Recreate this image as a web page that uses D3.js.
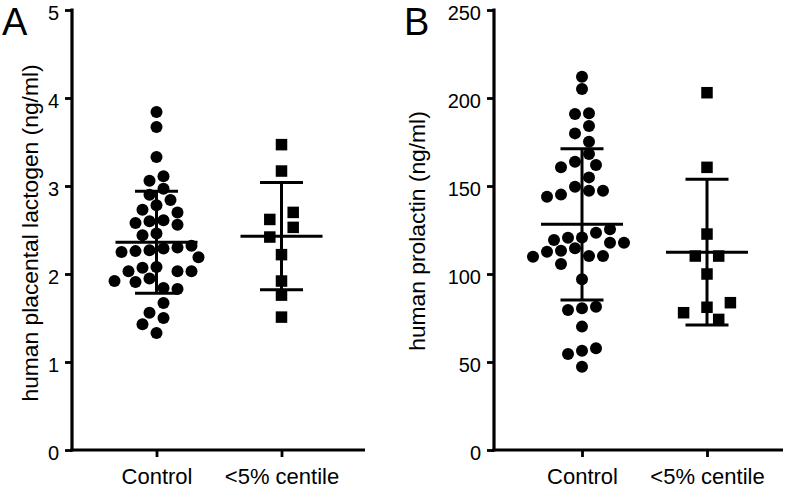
<!DOCTYPE html>
<html>
<head>
<meta charset="utf-8">
<script src="https://cdn.jsdelivr.net/npm/d3@7"></script>
<style>
  html, body { margin: 0; padding: 0; background: #fff; }
  svg { display: block; font-family: "Liberation Sans", Arial, Helvetica, sans-serif; }
</style>
</head>
<body>
<svg id="chart" width="794" height="488"></svg>
<script>
// ---- Data ----
const categories = ["Control", "<5% centile"];

// Panel A: human placental lactogen (ng/ml)
const hplControl = [3.84, 3.67, 3.33, 3.11, 3.06, 2.97, 2.90, 2.84, 2.78, 2.73,
  2.70, 2.61, 2.60, 2.58, 2.56, 2.46, 2.44, 2.32, 2.30, 2.29,
  2.27, 2.26, 2.25, 2.19, 2.08, 2.07, 2.03, 2.03, 2.03, 1.95,
  1.92, 1.91, 1.84, 1.83, 1.67, 1.56, 1.50, 1.43, 1.33];
const hplFGR = [3.47, 3.17, 2.70, 2.62, 2.53, 2.42, 2.22, 1.92, 1.76, 1.51];
const hplMean = [2.36, 2.43];
const hplSD = [0.58, 0.61];
const hplTicks = [0, 1, 2, 3, 4, 5];

// Panel B: human prolactin (ng/ml)
const prlControl = [212.1, 205.1, 191.3, 190.9, 184.1, 179.9, 175.2, 168.2, 163.8, 161.9,
  160.6, 154.9, 149.6, 147.3, 147.3, 145.1, 143.9, 125.4, 123.5, 120.8,
  120.6, 119.3, 117.8, 117.8, 114.6, 113.2, 112.7, 110.2, 110.2, 109.8,
  105.7, 97.0, 81.4, 80.5, 79.5, 70.1, 57.8, 56.4, 54.5, 47.3];
const prlFGR = [203.0, 160.6, 122.7, 110.2, 110.2, 100.0, 83.7, 81.1, 78.0, 74.2];
const prlMean = [128.2, 112.4];
const prlSD = [43.0, 41.4];
const prlTicks = [0, 50, 100, 150, 200, 250];

// ---- Layout ----
const svg = d3.select("#chart");
const yTop = 10, yBottom = 450;
const FONT = "'Liberation Sans', Arial, Helvetica, sans-serif";

const panels = [
  { letter: "A", letterX: 2, x0: 72, width: 293, catPos: [84.5, 209.5],
    domain: [0, 5], ticks: hplTicks, title: "human placental lactogen (ng/ml)",
    titleX: 38, titleY: 233, groups: [hplControl, hplFGR], mean: hplMean, sd: hplSD },
  { letter: "B", letterX: 404, x0: 494, width: 289, catPos: [88, 213],
    domain: [0, 250], ticks: prlTicks, title: "human prolactin (ng/ml)",
    titleX: 425, titleY: 231, groups: [prlControl, prlFGR], mean: prlMean, sd: prlSD }
];

// simple deterministic beeswarm: bin rows, centre each row, resolve overlaps
function swarm(values, y, step, minDist, binH) {
  const pts = values.map((v, i) => ({ v, i, y: y(v) })).sort((a, b) => a.y - b.y);
  const bins = [];
  let cur = null;
  for (const p of pts) {
    if (!cur || p.y - cur[0].y >= binH) { cur = []; bins.push(cur); }
    cur.push(p);
  }
  const placed = [];
  for (const bin of bins) {
    const n = bin.length;
    bin.forEach((p, i) => {
      const desired = ((n - 1) / 2 - i) * step;
      let off = desired;
      for (let j = 0; j < 80; j++) {
        const kk = j === 0 ? 0 : (j % 2 ? -Math.ceil(j / 2) : Math.ceil(j / 2));
        off = desired + kk * step / 2;
        if (placed.every(q => Math.hypot(q.dx - off, q.y - p.y) >= minDist)) break;
      }
      p.dx = off;
      placed.push(p);
    });
  }
  return placed;
}

panels.forEach(P => {
  const g = svg.append("g").attr("transform", `translate(${P.x0},0)`);
  const y = d3.scaleLinear().domain(P.domain).range([yBottom, yTop]);
  const x = d3.scalePoint().domain(categories).range(P.catPos);

  // y axis
  const yAx = g.append("g")
    .call(d3.axisLeft(y).tickValues(P.ticks).tickSize(7).tickSizeOuter(0).tickPadding(6)
      .tickFormat(d3.format("d")));
  yAx.select(".domain").remove();
  yAx.selectAll(".tick line").attr("stroke", "#000").attr("stroke-width", 2.8);
  yAx.selectAll(".tick text").attr("fill", "#000").attr("dy", "9px")
    .style("font-size", "20px").style("font-family", FONT);
  g.append("line").attr("x1", 0).attr("x2", 0).attr("y1", yTop - 1.4).attr("y2", yBottom + 1.5)
    .attr("stroke", "#000").attr("stroke-width", 3.2);

  // x axis
  const xAx = g.append("g").attr("transform", `translate(0,${yBottom})`)
    .call(d3.axisBottom(x).tickSize(7).tickSizeOuter(0).tickPadding(0));
  xAx.select(".domain").remove();
  xAx.selectAll(".tick line").attr("stroke", "#000").attr("stroke-width", 2.8);
  xAx.selectAll(".tick text").attr("fill", "#000").attr("y", 34).attr("dy", 0)
    .style("font-size", "22px").style("font-family", FONT);
  g.append("line").attr("x1", -1.6).attr("x2", P.width).attr("y1", yBottom).attr("y2", yBottom)
    .attr("stroke", "#000").attr("stroke-width", 3.2);

  // y title
  g.append("text")
    .attr("transform", `translate(${P.titleX - P.x0},${P.titleY}) rotate(-90)`)
    .attr("text-anchor", "middle")
    .style("font-size", "22.8px")
    .attr("fill", "#000")
    .text(P.title);

  // panel letter
  svg.append("text").attr("x", P.letterX).attr("y", 34.5)
    .style("font-size", "38px").attr("fill", "#000").text(P.letter);

  // points
  P.groups.forEach((vals, gi) => {
    const cx = x(categories[gi]);
    if (gi === 0) {
      const pts = swarm(vals, y, 14, 12.2, 11);
      g.append("g").selectAll("circle").data(pts).join("circle")
        .attr("cx", d => cx + d.dx).attr("cy", d => d.y).attr("r", 6).attr("fill", "#000");
    } else {
      const s = 11.5;
      const pts = swarm(vals, y, 23.4, 13.5, 12);
      g.append("g").selectAll("rect").data(pts).join("rect")
        .attr("x", d => cx + d.dx - s / 2).attr("y", d => d.y - s / 2)
        .attr("width", s).attr("height", s).attr("fill", "#000");
    }
    // mean and SD
    const m = P.mean[gi], sd = P.sd[gi];
    const eb = g.append("g").attr("stroke", "#000").attr("stroke-width", 3);
    eb.append("line").attr("x1", cx).attr("x2", cx).attr("y1", y(m + sd)).attr("y2", y(m - sd));
    eb.append("line").attr("x1", cx - 21.5).attr("x2", cx + 21.5).attr("y1", y(m + sd)).attr("y2", y(m + sd));
    eb.append("line").attr("x1", cx - 21.5).attr("x2", cx + 21.5).attr("y1", y(m - sd)).attr("y2", y(m - sd));
    eb.append("line").attr("x1", cx - 41).attr("x2", cx + 41).attr("y1", y(m)).attr("y2", y(m));
  });
});
</script>
</body>
</html>
